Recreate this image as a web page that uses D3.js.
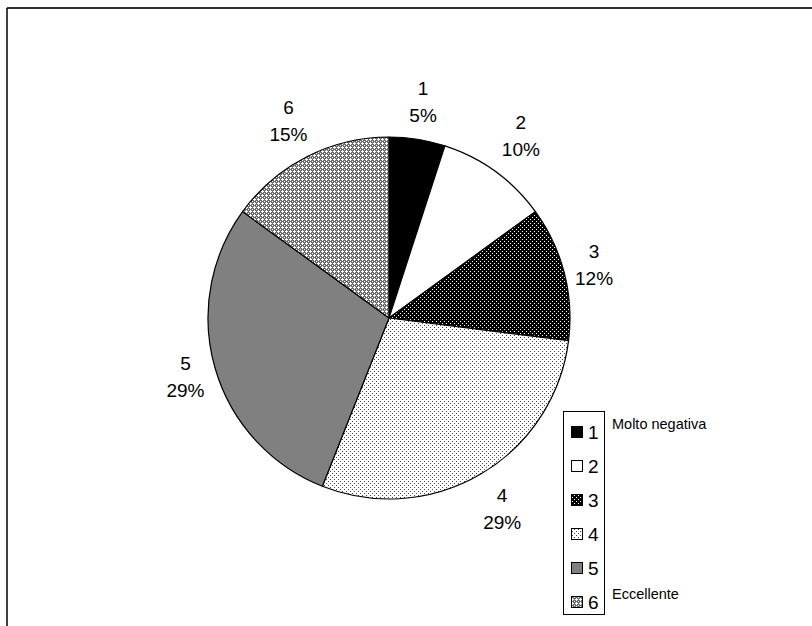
<!DOCTYPE html>
<html>
<head>
<meta charset="utf-8">
<script src="https://cdn.jsdelivr.net/npm/d3@7"></script>
<style>
  html, body { margin: 0; padding: 0; background: #fff; }
  svg { display: block; font-family: Arial, "Liberation Sans", sans-serif; }
</style>
</head>
<body>
<svg id="chart" width="812" height="626"></svg>
<script>
// Rating categories and their shares (percent)
const categories = ["1", "2", "3", "4", "5", "6"];
const shares = [5, 10, 12, 29, 29, 15];
const fills = ["black", "white", "dots-dark", "dots-light", "gray", "check"];
const legendNotes = ["Molto negativa", "", "", "", "", "Eccellente"];

const svg = d3.select("#chart");
const defs = svg.append("defs");

// Fill patterns for the hatched slices
function pattern(id, bg, fg, cells, size) {
  const p = defs.append("pattern")
    .attr("id", id).attr("patternUnits", "userSpaceOnUse")
    .attr("width", size).attr("height", size);
  p.append("rect").attr("width", size).attr("height", size).attr("fill", bg)
    .attr("shape-rendering", "crispEdges");
  cells.forEach(([x, y]) => p.append("rect")
    .attr("x", x).attr("y", y).attr("width", 1).attr("height", 1)
    .attr("fill", fg).attr("shape-rendering", "crispEdges"));
}
pattern("dots-dark", "#000", "#fff", [[1, 1], [3, 3]], 4);
pattern("dots-light", "#fff", "#444", [[1, 1], [3, 3]], 4);
pattern("check", "#6c6c6c", "#fff", [[1, 0], [0, 1], [1, 1], [2, 1], [1, 2], [3, 3]], 4);

const fillOf = f => f === "black" ? "#000" : f === "white" ? "#fff" : f === "gray" ? "#808080" : `url(#${f})`;

// Outer frame lines
svg.append("line").attr("x1", 7).attr("y1", 8).attr("x2", 812).attr("y2", 8)
  .attr("stroke", "#333").attr("stroke-width", 2);
svg.append("line").attr("x1", 7).attr("y1", 8).attr("x2", 7).attr("y2", 626)
  .attr("stroke", "#000").attr("stroke-width", 1.5);

// Pie
const cx = 389, cy = 318, radius = 181, labelGap = 191;
const pie = d3.pie().sort(null).value(d => d.v);
const data = categories.map((c, i) => ({ c, v: shares[i], f: fills[i] }));
const arcs = pie(data);
const arc = d3.arc().innerRadius(0).outerRadius(radius);

const g = svg.append("g").attr("transform", `translate(${cx},${cy})`);
g.selectAll("path.slice").data(arcs).join("path")
  .attr("class", "slice")
  .attr("d", arc)
  .attr("fill", d => fillOf(d.data.f))
  .attr("stroke", "#000").attr("stroke-width", 1.2).attr("stroke-linejoin", "round");

// Data labels: the label box sits just outside the rim along the slice bisector
const fmt = d3.format(".0%");
const labels = g.selectAll("text.lbl").data(arcs).join("text")
  .attr("class", "lbl")
  .attr("text-anchor", "middle")
  .attr("font-size", 19).attr("fill", "#000");
labels.append("tspan").attr("x", 0).attr("y", -7).text(d => d.data.c);
labels.append("tspan").attr("x", 0).attr("y", 20).text(d => fmt(d.data.v / 100));
labels.attr("transform", function (d) {
  const b = this.getBBox();
  const a = (d.startAngle + d.endAngle) / 2;
  const ux = Math.sin(a), uy = -Math.cos(a);
  const hw = b.width / 2 + 1, hh = b.height / 2 + 3;
  const toEdge = Math.min(Math.abs(ux) > 1e-6 ? hw / Math.abs(ux) : Infinity,
                          Math.abs(uy) > 1e-6 ? hh / Math.abs(uy) : Infinity);
  const dist = labelGap + toEdge;
  const bcx = b.x + b.width / 2, bcy = b.y + b.height / 2;
  return `translate(${ux * dist - bcx},${uy * dist - bcy})`;
});

// Legend
const lx = 563, ly = 411, lw = 41, lh = 203, step = 34;
svg.append("rect").attr("x", lx + 0.5).attr("y", ly + 0.5).attr("width", lw).attr("height", lh)
  .attr("fill", "#fff").attr("stroke", "#000").attr("stroke-width", 1);
const items = svg.selectAll("g.item").data(data).join("g")
  .attr("class", "item")
  .attr("transform", (d, i) => `translate(${lx + 8},${ly + 21 + i * step})`);
items.append("rect").attr("x", 0.5).attr("y", -5.5).attr("width", 11).attr("height", 11)
  .attr("fill", d => fillOf(d.f)).attr("stroke", "#000").attr("stroke-width", 1)
  .attr("shape-rendering", "crispEdges");
items.append("text").attr("x", 17).attr("y", 7).attr("font-size", 19).text(d => d.c);
items.append("text").attr("x", 41).attr("y", -3).attr("font-size", 14.5)
  .text((d, i) => legendNotes[i]);
</script>
</body>
</html>
